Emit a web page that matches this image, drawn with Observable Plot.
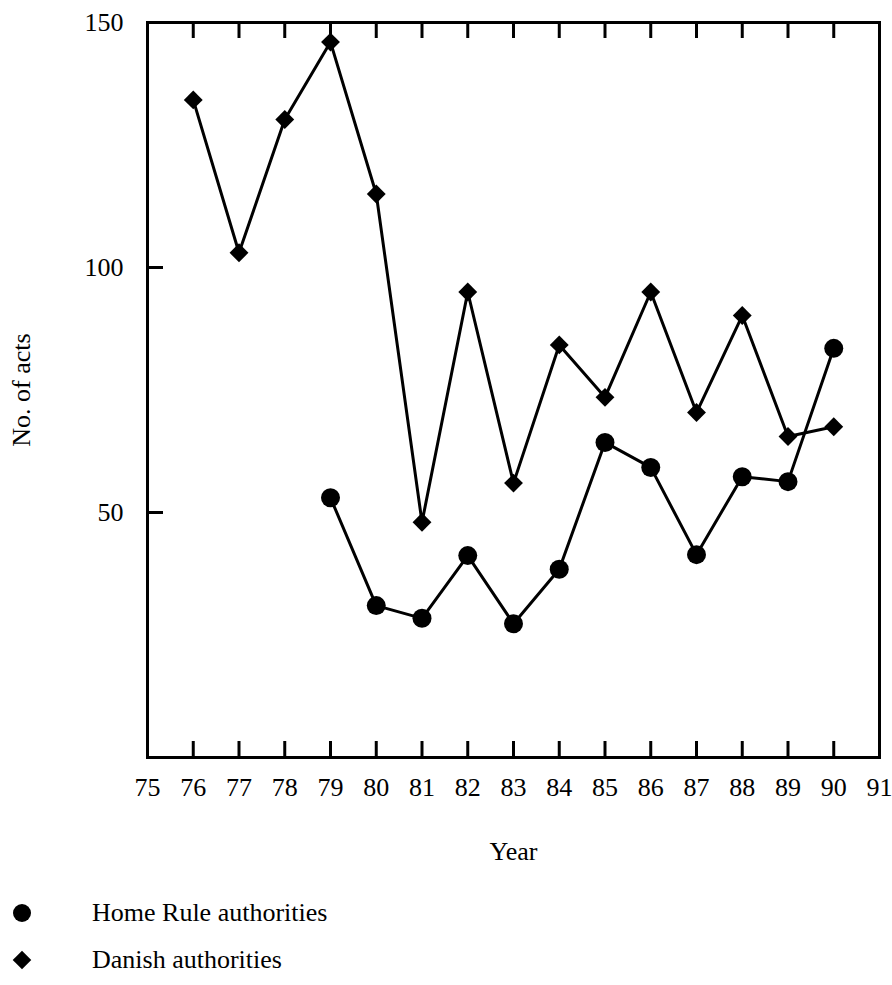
<!DOCTYPE html>
<html><head><meta charset="utf-8">
<script src="https://cdn.jsdelivr.net/npm/d3@7"></script>
<script src="https://cdn.jsdelivr.net/npm/@observablehq/plot@0.6"></script>
<style>
body{margin:0;background:#fff;font-family:"Liberation Serif","Times New Roman",serif;}
#chart{position:absolute;left:0;top:0;}
#legend{position:absolute;left:0;top:0;width:892px;}
.item{position:absolute;left:0;height:30px;display:flex;align-items:center;font-size:26px;color:#000;}
.item svg{position:absolute;left:7px;top:0;}
.item span{position:absolute;left:92px;white-space:nowrap;}
</style></head><body>
<div id="chart"></div>
<div id="legend"></div>
<script>
// Data
const homeRuleYears = [79, 80, 81, 82, 83, 84, 85, 86, 87, 88, 89, 90];
const homeRuleActs  = [53, 31, 28.4, 41.2, 27.3, 38.4, 64.3, 59.2, 41.4, 57.3, 56.3, 83.5];
const danishYears = [76, 77, 78, 79, 80, 81, 82, 83, 84, 85, 86, 87, 88, 89, 90];
const danishActs  = [134.2, 103, 130.2, 146, 115, 48, 95, 56, 84.2, 73.5, 95, 70.4, 90.2, 65.5, 67.5];
const xTickLabels = [75, 76, 77, 78, 79, 80, 81, 82, 83, 84, 85, 86, 87, 88, 89, 90, 91];
const xTickMarks  = [76, 77, 78, 79, 80, 81, 82, 83, 84, 85, 86, 87, 88, 89, 90];
const yTickLabels = [50, 100, 150];
const yTickMarks  = [50, 100];
const seriesNames = ["Home Rule authorities", "Danish authorities"];

const homeRule = homeRuleYears.map((y, i) => ({year: y, acts: homeRuleActs[i]}));
const danish = danishYears.map((y, i) => ({year: y, acts: danishActs[i]}));

const W = 892, H = 880;
const mL = 147, mR = 13, mT = 22, mB = 123;
const plotH = H - mT - mB, plotW = W - mL - mR;
const tickLen = 16;
const fs = 26;

const chart = Plot.plot({
  width: W, height: H,
  marginLeft: mL, marginRight: mR, marginTop: mT, marginBottom: mB,
  style: {fontFamily: '"Liberation Serif","Times New Roman",serif', fontSize: fs + "px", color: "#000", background: "#fff"},
  x: {domain: [75, 91]},
  y: {domain: [0, 150]},
  marks: [
    Plot.frame({stroke: "#000", strokeWidth: 3}),
    Plot.tickX(xTickMarks, {x: d => d, insetTop: plotH - tickLen, stroke: "#000", strokeWidth: 3}),
    Plot.tickX(xTickMarks, {x: d => d, insetBottom: plotH - tickLen, stroke: "#000", strokeWidth: 3}),
    Plot.tickY(yTickMarks, {y: d => d, insetRight: plotW - tickLen, stroke: "#000", strokeWidth: 3}),
    Plot.axisX({ticks: xTickLabels, tickSize: 0, tickPadding: 20, tickFormat: d => String(d),
      label: "Year", labelAnchor: "center", labelOffset: 102, labelArrow: "none", fontSize: fs}),
    Plot.axisY({ticks: yTickLabels, tickSize: 0, tickPadding: 24, tickFormat: d => String(d),
      label: "No. of acts", labelAnchor: "center", labelOffset: 136, labelArrow: "none", fontSize: fs}),
    Plot.line(danish, {x: "year", y: "acts", stroke: "#000", strokeWidth: 3}),
    Plot.line(homeRule, {x: "year", y: "acts", stroke: "#000", strokeWidth: 3}),
    Plot.dot(danish, {x: "year", y: "acts", symbol: "diamond2", r: 8.5, fill: "#000", stroke: "none"}),
    Plot.dot(homeRule, {x: "year", y: "acts", symbol: "circle", r: 9.5, fill: "#000", stroke: "none"})
  ]
});
document.getElementById("chart").appendChild(chart);

// Legend below the chart
const legend = d3.select("#legend");
const legendSymbols = [d3.symbolCircle, d3.symbolDiamond2];
const legendSizes = [Math.PI * 9 * 9, 220];
const legendTops = [898, 945];
seriesNames.forEach((name, i) => {
  const item = legend.append("div").attr("class", "item").style("top", legendTops[i] + "px");
  const svg = item.append("svg").attr("width", 30).attr("height", 30);
  svg.append("path").attr("transform", "translate(15,15)")
    .attr("d", d3.symbol(legendSymbols[i], legendSizes[i])()).attr("fill", "#000");
  item.append("span").text(name);
});
</script>
</body></html>
